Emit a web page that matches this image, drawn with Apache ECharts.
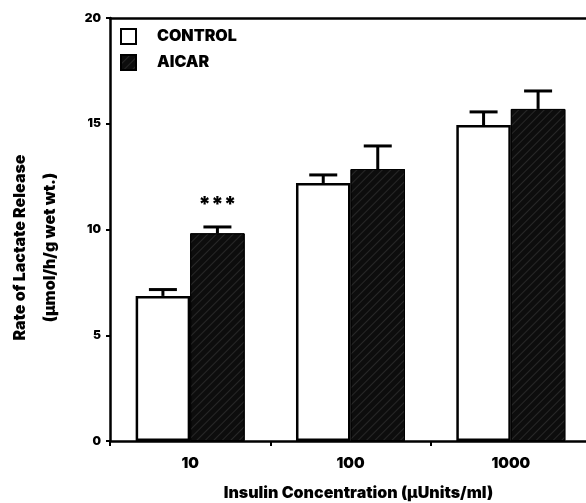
<!DOCTYPE html>
<html>
<head>
<meta charset="utf-8">
<script src="https://cdn.jsdelivr.net/npm/echarts@6/dist/echarts.min.js"></script>
<style>html,body{margin:0;padding:0;background:#fff}#c{width:586px;height:503px}</style>
</head>
<body>
<div id="c"></div>
<script>
var categories = ['10', '100', '1000'];
var controlMean = [6.86, 12.2, 14.94];
var controlUpper = [7.16, 12.58, 15.56];
var aicarMean = [9.82, 12.86, 15.7];
var aicarUpper = [10.12, 13.95, 16.55];
var significance = ['***', '', ''];
var yTicks = [0, 5, 10, 15, 20];

var FONT = 'Inter, "Liberation Sans", Arial, sans-serif';
var FW = 900;
var BAR_FRAC = 0.34;

function errData(means, uppers) {
  return means.map(function (m, i) { return [i, m, uppers[i], significance[i]]; });
}

function makeErr(sign, withText) {
  return function (params, api) {
    var idx = api.value(0);
    var catW = api.size([1, 0])[0];
    var barW = catW * BAR_FRAC;
    var top = api.coord([idx, api.value(1)]);
    var up = api.coord([idx, api.value(2)]);
    var x = top[0] + sign * barW / 2;
    var children = [
      { type: 'line', shape: { x1: x, y1: top[1], x2: x, y2: up[1] }, style: { stroke: '#000', lineWidth: 3 } },
      { type: 'line', shape: { x1: x - 14, y1: up[1], x2: x + 14, y2: up[1] }, style: { stroke: '#000', lineWidth: 3 } }
    ];
    if (withText) {
      var t = api.value(3);
      if (t) {
        children.push({ type: 'text', style: { text: t, x: x, y: up[1] - 21, align: 'center', verticalAlign: 'middle', font: FW + ' 21px ' + FONT, fill: '#000' } });
      }
    }
    return { type: 'group', children: children };
  };
}

var chart = echarts.init(document.getElementById('c'), null, { renderer: 'canvas' });
chart.setOption({
  animation: false,
  backgroundColor: '#fff',
  grid: { left: 110, top: 18, bottom: 62, right: -5, containLabel: false, outerBoundsMode: 'none' },
  legend: {
    orient: 'vertical', left: 115, top: 23, itemWidth: 15, itemHeight: 15, itemGap: 9,
    icon: 'rect',
    data: ['CONTROL', 'AICAR'],
    textStyle: { fontFamily: FONT, fontWeight: FW, fontSize: 16, color: '#000', padding: [0, 0, 0, 16] }
  },
  xAxis: [{
    type: 'category', data: categories, position: 'bottom',
    axisLine: { lineStyle: { color: '#000', width: 2.5 } },
    axisTick: { show: true, length: 5, lineStyle: { color: '#000', width: 2 } },
    axisLabel: { fontFamily: FONT, fontWeight: FW, fontSize: 15, color: '#000', margin: 15 },
    name: 'Insulin Concentration (\u00b5Units/ml)', nameLocation: 'middle', nameGap: 44,
    nameTextStyle: { fontFamily: FONT, fontWeight: FW, fontSize: 16, color: '#000', padding: [0, 0, 0, 16] }
  }, {
    type: 'category', data: categories, position: 'top',
    axisLine: { lineStyle: { color: '#000', width: 2.5 } },
    axisTick: { show: false }, axisLabel: { show: false }
  }],
  yAxis: {
    type: 'value', min: yTicks[0], max: yTicks[yTicks.length - 1], interval: 5,
    axisLine: { show: true, lineStyle: { color: '#000', width: 2.5 } },
    axisTick: { show: true, length: 4, lineStyle: { color: '#000', width: 2 } },
    splitLine: { show: false },
    axisLabel: { fontFamily: FONT, fontWeight: FW, fontSize: 12, color: '#000', margin: 9 },
    name: 'Rate of Lactate Release\n(\u00b5mol/h/g wet wt.)', nameLocation: 'middle', nameRotate: 90, nameGap: 45,
    nameTextStyle: { fontFamily: FONT, fontWeight: FW, fontSize: 16, color: '#000', lineHeight: 30, padding: [0, 36, 0, 0] }
  },
  series: [{
    name: 'CONTROL', type: 'bar', data: controlMean, barWidth: (BAR_FRAC * 100) + '%', barGap: '0%',
    itemStyle: { color: '#fff', borderColor: '#000', borderWidth: 2.5 }
  }, {
    name: 'AICAR', type: 'bar', data: aicarMean, barWidth: (BAR_FRAC * 100) + '%', barGap: '0%',
    itemStyle: {
      color: '#0d0d0d', borderColor: '#000', borderWidth: 1,
      decal: { symbol: 'rect', color: 'rgba(90,90,90,0.35)', dashArrayX: [1, 0], dashArrayY: [1, 5], rotation: -Math.PI / 4 }
    }
  }, {
    type: 'custom', name: 'errC', data: errData(controlMean, controlUpper), renderItem: makeErr(-1, false),
    encode: { x: 0, y: [1, 2] }, z: 5, silent: true
  }, {
    type: 'custom', name: 'errA', data: errData(aicarMean, aicarUpper), renderItem: makeErr(1, true),
    encode: { x: 0, y: [1, 2] }, z: 5, silent: true
  }]
});
</script>
</body>
</html>
